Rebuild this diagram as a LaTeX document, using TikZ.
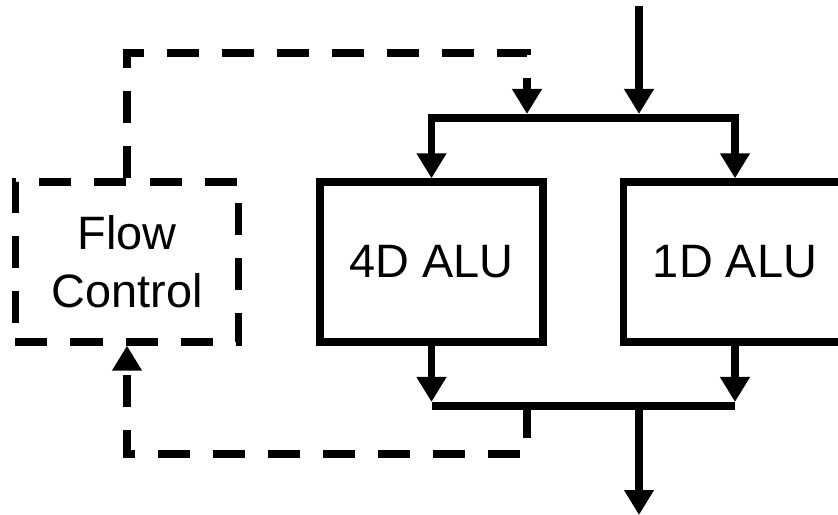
\documentclass[tikz,border=0pt]{standalone}
\usepackage{fontspec}
\setmainfont{Liberation Sans}
\usetikzlibrary{arrows.meta}
\tikzset{
  alubox/.style={draw, line width=0.22cm, minimum width=6.69cm, minimum height=4.8cm,
    align=center, font=\fontsize{40}{49.4}\selectfont},
  ctlbox/.style={alubox, dash pattern=on 0.96cm off 0.69cm},
  wire/.style={line width=0.22cm, >={Triangle[length=0.75cm,width=0.85cm]}},
  ctlwire/.style={wire, dash pattern=on 0.96cm off 0.69cm}
}
\begin{document}
\begin{tikzpicture}[x=0.03cm,y=-0.03cm]
  \useasboundingbox (0,0) rectangle (838,515);
  \node[ctlbox] (fc) at (127,262) {Flow\\Control};
  \node[alubox] (alu4) at (431.5,262) {4D ALU};
  \node[alubox] (alu1) at (735,262) {1D ALU};
  % split to the two ALUs
  \coordinate (in) at (639,6);
  \coordinate (split) at (639,114);
  \coordinate (tl) at (431.5,118);
  \coordinate (tr) at (735,118);
  \draw[wire,->] (in) -- (split);
  \draw[wire,<->] (alu4.north) -- (tl) -- (tr) -- (alu1.north);
  % merge of the results
  \coordinate (bl) at (431.5,406);
  \coordinate (br) at (735,406);
  \coordinate (merge) at (639,406);
  \coordinate (out) at (639,515);
  \draw[wire,->] (alu4.south) -- (431.5,402);
  \draw[wire,->] (alu1.south) -- (735,402);
  \draw[wire] (bl) -- (br);
  \draw[wire,->] (merge) -- (out);
  % control loop
  \coordinate (fbk) at (527,114);
  \coordinate (tap) at (527,406);
  \draw[ctlwire,->] (fc.north) -- (127,53) -| (fbk);
  \draw[ctlwire,->] (tap) -- (527,454) -| (fc.south);
\end{tikzpicture}
\end{document}
